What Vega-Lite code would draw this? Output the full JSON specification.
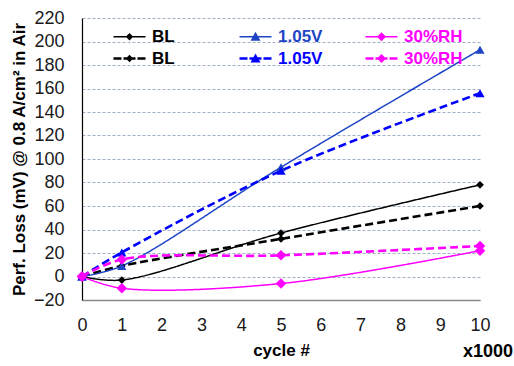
{
  "$schema": "https://vega.github.io/schema/vega-lite/v6.json",
  "width": 398,
  "height": 282,
  "autosize": "none",
  "padding": {"left": 82, "top": 18, "right": 34, "bottom": 66},
  "background": "white",
  "config": {
    "view": {"stroke": null},
    "font": "Liberation Sans",
    "axis": {"labelFont": "Liberation Sans", "titleFont": "Liberation Sans"}
  },
  "title": {
    "text": "x1000",
    "orient": "bottom",
    "anchor": "end",
    "frame": "group",
    "dx": 33,
    "offset": -15,
    "font": "Liberation Sans",
    "fontSize": 18,
    "fontWeight": "bold",
    "color": "#000000"
  },
  "data": {
    "values": [
      {"cycles": 0, "loss": 0, "series": "BL|1", "condition": "BL", "run": 1},
      {"cycles": 1, "loss": -3, "series": "BL|1", "condition": "BL", "run": 1},
      {"cycles": 5, "loss": 37, "series": "BL|1", "condition": "BL", "run": 1},
      {"cycles": 10, "loss": 78, "series": "BL|1", "condition": "BL", "run": 1},
      {"cycles": 0, "loss": 0, "series": "BL|2", "condition": "BL", "run": 2},
      {"cycles": 1, "loss": 9, "series": "BL|2", "condition": "BL", "run": 2},
      {"cycles": 5, "loss": 32, "series": "BL|2", "condition": "BL", "run": 2},
      {"cycles": 10, "loss": 60, "series": "BL|2", "condition": "BL", "run": 2},
      {"cycles": 0, "loss": 0, "series": "1.05V|1", "condition": "1.05V", "run": 1},
      {"cycles": 1, "loss": 9, "series": "1.05V|1", "condition": "1.05V", "run": 1},
      {"cycles": 5, "loss": 93, "series": "1.05V|1", "condition": "1.05V", "run": 1},
      {"cycles": 10, "loss": 193, "series": "1.05V|1", "condition": "1.05V", "run": 1},
      {"cycles": 0, "loss": 0, "series": "1.05V|2", "condition": "1.05V", "run": 2},
      {"cycles": 1, "loss": 20.5, "series": "1.05V|2", "condition": "1.05V", "run": 2},
      {"cycles": 5, "loss": 90, "series": "1.05V|2", "condition": "1.05V", "run": 2},
      {"cycles": 10, "loss": 156, "series": "1.05V|2", "condition": "1.05V", "run": 2},
      {"cycles": 0, "loss": 0, "series": "30%RH|1", "condition": "30%RH", "run": 1},
      {"cycles": 1, "loss": -10, "series": "30%RH|1", "condition": "30%RH", "run": 1},
      {"cycles": 5, "loss": -6, "series": "30%RH|1", "condition": "30%RH", "run": 1},
      {"cycles": 10, "loss": 22, "series": "30%RH|1", "condition": "30%RH", "run": 1},
      {"cycles": 0, "loss": 0, "series": "30%RH|2", "condition": "30%RH", "run": 2},
      {"cycles": 1, "loss": 14.5, "series": "30%RH|2", "condition": "30%RH", "run": 2},
      {"cycles": 5, "loss": 18, "series": "30%RH|2", "condition": "30%RH", "run": 2},
      {"cycles": 10, "loss": 26, "series": "30%RH|2", "condition": "30%RH", "run": 2}
    ]
  },
  "encoding": {
    "x": {
      "field": "cycles",
      "type": "quantitative",
      "scale": {"domain": [0, 10], "nice": false},
      "axis": {
        "values": [0, 1, 2, 3, 4, 5, 6, 7, 8, 9, 10],
        "grid": false,
        "ticks": false,
        "labelFlush": false,
        "domainColor": "#8a8a8a",
        "domainWidth": 1.5,
        "labelFontSize": 18,
        "labelColor": "#1a1a1a",
        "labelPadding": 16,
        "title": "cycle #",
        "titleFontSize": 17,
        "titleFontWeight": "bold",
        "titleColor": "#000000",
        "titlePadding": 8
      }
    },
    "y": {
      "field": "loss",
      "type": "quantitative",
      "scale": {"domain": [-20, 220], "nice": false, "zero": false},
      "axis": {
        "values": [-20, 0, 20, 40, 60, 80, 100, 120, 140, 160, 180, 200, 220],
        "grid": true,
        "gridColor": "#9fb0c6",
        "gridDash": [3, 2],
        "gridWidth": 1,
        "ticks": false,
        "labelFlush": false,
        "domainColor": "#000000",
        "domainWidth": 1.2,
        "labelFontSize": 18,
        "labelColor": "#1a1a1a",
        "labelPadding": 18,
        "title": "Perf. Loss (mV) @ 0.8 A/cm² in Air",
        "titleFontSize": 17,
        "titleFontWeight": "bold",
        "titleColor": "#000000",
        "titleBaseline": "middle",
        "titleX": -63
      }
    },
    "color": {
      "field": "series",
      "type": "nominal",
      "scale": {
        "domain": ["BL|1", "1.05V|1", "30%RH|1", "BL|2", "1.05V|2", "30%RH|2"],
        "range": ["#000000", "#1f45c6", "#ff00ff", "#000000", "#0000ff", "#ff00ff"]
      },
      "legend": {
        "title": null,
        "orient": "none",
        "legendX": 39,
        "legendY": 10,
        "direction": "horizontal",
        "columns": 3,
        "gridAlign": "all",
        "columnPadding": 28,
        "rowPadding": 4,
        "symbolSize": 100,
        "symbolStrokeWidth": 0,
        "labelFont": "Liberation Sans",
        "labelFontSize": 17,
        "labelFontWeight": "bold",
        "labelOffset": 14,
        "labelExpr": "split(datum.label, '|')[0]",
        "encode": {
          "symbols": {
            "update": {
              "shape": {"signal": "(indexof(datum.value, '|2') > 0 ? 'M-3.2,-0.25H-1.6V0.25H-3.2ZM-1.2,-0.25H1.2V0.25H-1.2ZM1.6,-0.25H3.2V0.25H1.6Z' : 'M-3.2,-0.15H3.2V0.15H-3.2Z') + (indexof(datum.value, '1.05V') === 0 ? 'M0,-1L1,0.8L-1,0.8Z' : (indexof(datum.value, '30%RH') === 0 ? 'M0,-0.9L0.9,0L0,0.9L-0.9,0Z' : 'M0,-0.75L0.75,0L0,0.75L-0.75,0Z'))"},
              "fill": {"signal": "scale('color', datum.value)"},
              "opacity": {"value": 1}
            }
          },
          "labels": {
            "update": {
              "fill": {"signal": "scale('color', datum.value)"}
            }
          }
        }
      }
    }
  },
  "layer": [
    {
      "mark": {"type": "line", "interpolate": "catmull-rom"},
      "encoding": {
        "strokeDash": {
          "field": "run",
          "type": "nominal",
          "scale": {"domain": [1, 2], "range": [[1, 0], [8, 4]]},
          "legend": null
        },
        "strokeWidth": {
          "field": "run",
          "type": "nominal",
          "scale": {"domain": [1, 2], "range": [1.5, 2.6]},
          "legend": null
        }
      }
    },
    {
      "mark": {"type": "point", "filled": true, "opacity": 1},
      "encoding": {
        "shape": {
          "field": "condition",
          "type": "nominal",
          "scale": {"domain": ["BL", "1.05V", "30%RH"], "range": ["diamond", "triangle-up", "diamond"]},
          "legend": null
        },
        "size": {
          "field": "condition",
          "type": "nominal",
          "scale": {"domain": ["BL", "1.05V", "30%RH"], "range": [60, 110, 90]},
          "legend": null
        }
      }
    }
  ]
}
